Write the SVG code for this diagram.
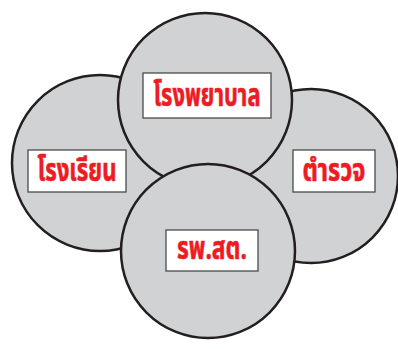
<svg xmlns="http://www.w3.org/2000/svg" width="398" height="349" viewBox="0 0 398 349">
<style>
.c{fill:#d1d2d4;stroke:#231f20;stroke-width:2.5}
.b{fill:#fff;stroke:#4a4a4a;stroke-width:1.3}
.t{fill:#ed1c24;stroke:#ed1c24;stroke-width:0.6;font-family:"Noto Sans Thai","Noto Sans","DejaVu Sans",sans-serif;font-weight:bold;font-size:31px;text-anchor:middle}
</style>
<rect width="398" height="349" fill="#fff"/>
<g id="school">
<circle class="c" cx="100" cy="163" r="88"/>
<rect class="b" x="28" y="150" width="98" height="42"/>
<text class="t" x="77" y="181" textLength="79" lengthAdjust="spacingAndGlyphs">โรงเรียน</text>
</g>
<g id="police">
<circle class="c" cx="311" cy="176" r="87"/>
<rect class="b" x="293" y="150" width="82" height="42"/>
<text class="t" x="334" y="181" textLength="63" lengthAdjust="spacingAndGlyphs">ตำรวจ</text>
</g>
<g id="hospital">
<circle class="c" cx="205" cy="100" r="87"/>
<rect class="b" x="143" y="73" width="128" height="45"/>
<text class="t" x="207" y="106" textLength="107" lengthAdjust="spacingAndGlyphs">โรงพยาบาล</text>
</g>
<g id="health-center">
<circle class="c" cx="208" cy="251" r="87"/>
<rect class="b" x="166" y="230" width="92" height="41"/>
<text class="t" x="212" y="259" textLength="70" lengthAdjust="spacingAndGlyphs">รพ.สต.</text>
</g>
<g id="connectors"/>
</svg>
